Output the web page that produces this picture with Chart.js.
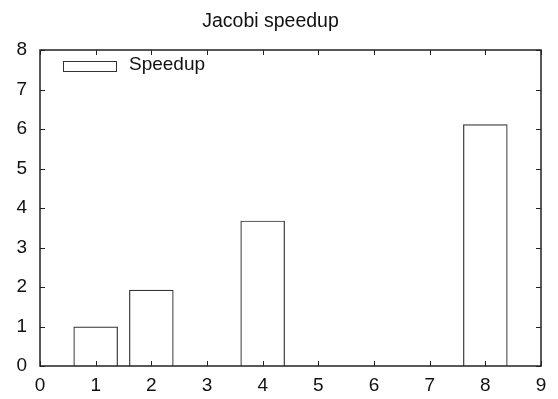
<!DOCTYPE html>
<html lang="en">
<head>
    <meta charset="UTF-8">
    <title>Jacobi speedup</title>
    <script src="https://cdn.jsdelivr.net/npm/chart.js"></script>
    <style>
        body { margin: 0; background: #fff; }
        canvas { display: block; }
    </style>
</head>
<body>
    <canvas id="grafico" width="558" height="399"></canvas>

    <script>
        // Dados
        var threads = [1, 2, 4, 8];
        var speedup = [1.0, 1.93, 3.68, 6.12];
        var serieLabel = 'Speedup';
        var titulo = 'Jacobi speedup';

        var fonte = '"Liberation Sans", Arial, Helvetica, sans-serif';
        var corLinha = '#222';

        var pontos = threads.map(function (t, i) { return { x: t, y: speedup[i] }; });

        // Moldura com marcas internas nos quatro lados (estilo gnuplot)
        var molduraPlugin = {
            id: 'moldura',
            afterDraw: function (chart) {
                var ctx = chart.ctx;
                var a = chart.chartArea;
                var sx = chart.scales.x;
                var sy = chart.scales.y;
                var tam = 5;
                ctx.save();
                ctx.strokeStyle = corLinha;
                ctx.lineWidth = 1.5;
                ctx.strokeRect(a.left, a.top, a.right - a.left, a.bottom - a.top);
                ctx.lineWidth = 1;
                ctx.beginPath();
                sx.ticks.forEach(function (t) {
                    var px = Math.round(sx.getPixelForValue(t.value)) + 0.5;
                    ctx.moveTo(px, a.bottom); ctx.lineTo(px, a.bottom - tam);
                    ctx.moveTo(px, a.top); ctx.lineTo(px, a.top + tam);
                });
                sy.ticks.forEach(function (t) {
                    var py = Math.round(sy.getPixelForValue(t.value)) + 0.5;
                    ctx.moveTo(a.left, py); ctx.lineTo(a.left + tam, py);
                    ctx.moveTo(a.right, py); ctx.lineTo(a.right - tam, py);
                });
                ctx.stroke();

                // legenda dentro da área do gráfico
                var ds = chart.data.datasets[0];
                var bx = a.left + 23, by = a.top + 11;
                ctx.lineWidth = 1;
                ctx.strokeStyle = '#333';
                ctx.strokeRect(bx + 0.5, by + 0.5, 53, 10);
                ctx.fillStyle = '#111';
                ctx.font = '19px ' + fonte;
                ctx.textBaseline = 'middle';
                ctx.textAlign = 'left';
                ctx.fillText(ds.label, bx + 66, by + 4);
                ctx.restore();
            }
        };

        var grafico = new Chart(document.getElementById('grafico').getContext('2d'), {
            type: 'bar',
            data: {
                datasets: [{
                    label: serieLabel,
                    data: pontos,
                    backgroundColor: 'rgba(255,255,255,0)',
                    borderColor: '#333',
                    borderWidth: 1.2,
                    barPercentage: 0.8,
                    categoryPercentage: 1.0
                }]
            },
            options: {
                responsive: false,
                animation: false,
                devicePixelRatio: 1,
                layout: { padding: { left: 0, right: 17, top: 0, bottom: 0 } },
                scales: {
                    x: {
                        type: 'linear',
                        offset: false,
                        min: 0,
                        max: 9,
                        afterFit: function (s) { s.height = 33; },
                        grid: { display: false, drawTicks: false, offset: false },
                        border: { display: false },
                        ticks: {
                            stepSize: 1,
                            padding: 8,
                            color: '#111',
                            font: { family: fonte, size: 19 },
                            maxRotation: 0
                        }
                    },
                    y: {
                        min: 0,
                        max: 8,
                        afterFit: function (s) { s.width = 40; },
                        grid: { display: false, drawTicks: false },
                        border: { display: false },
                        ticks: {
                            stepSize: 1,
                            padding: 13,
                            color: '#111',
                            font: { family: fonte, size: 19 }
                        }
                    }
                },
                plugins: {
                    legend: { display: false },
                    tooltip: { enabled: false },
                    title: {
                        display: true,
                        text: titulo,
                        color: '#111',
                        font: { family: fonte, size: 19.5, weight: 'normal' },
                        padding: { top: 10, bottom: 16.6 }
                    }
                }
            },
            plugins: [molduraPlugin]
        });
    </script>
</body>
</html>
